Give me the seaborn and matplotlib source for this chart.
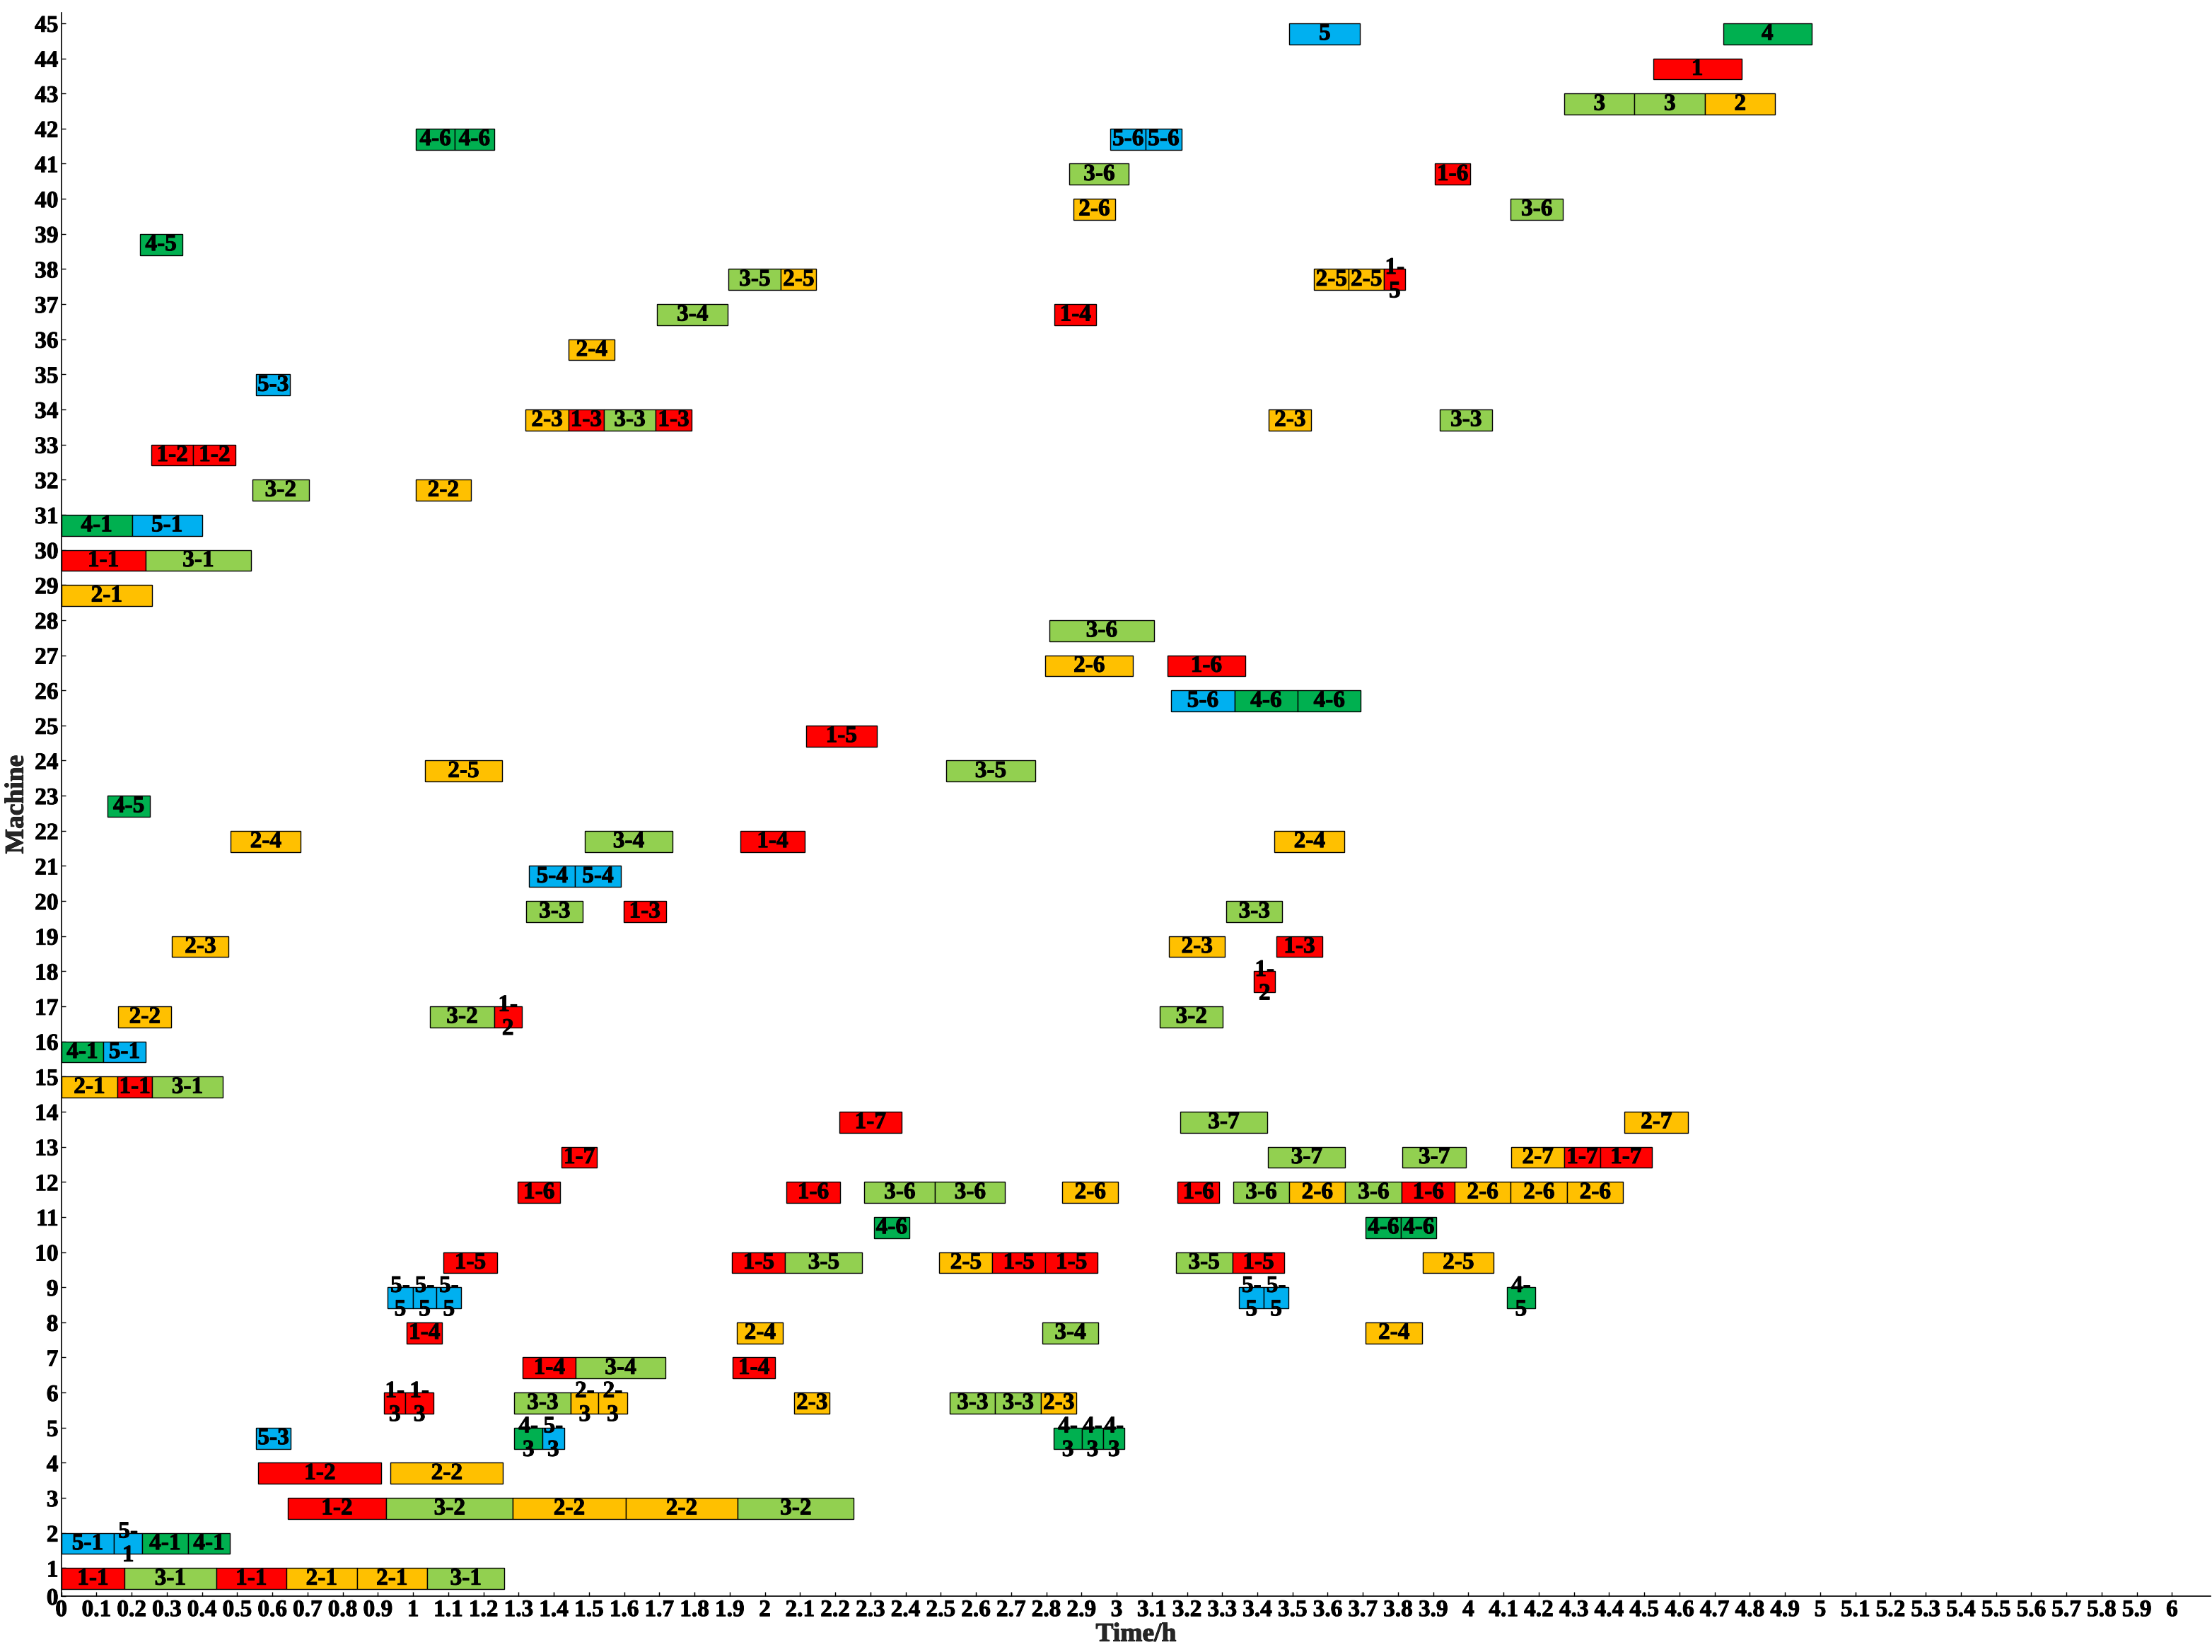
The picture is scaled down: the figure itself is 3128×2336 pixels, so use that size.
import numpy as np
import pandas as pd
import matplotlib
matplotlib.use("Agg")
import matplotlib.pyplot as plt
import matplotlib.patheffects as pe
import seaborn as sns

# one line per machine row, bottom (1) to top (45)
machine = [
    1, 1, 1, 1, 1, 1,
    2, 2, 2, 2,
    3, 3, 3, 3, 3,
    4, 4,
    5, 5, 5, 5, 5, 5,
    6, 6, 6, 6, 6, 6, 6, 6, 6,
    7, 7, 7,
    8, 8, 8, 8,
    9, 9, 9, 9, 9, 9,
    10, 10, 10, 10, 10, 10, 10, 10, 10,
    11, 11, 11,
    12, 12, 12, 12, 12, 12, 12, 12, 12, 12, 12, 12, 12,
    13, 13, 13, 13, 13, 13,
    14, 14, 14,
    15, 15, 15,
    16, 16,
    17, 17, 17, 17,
    18,
    19, 19, 19,
    20, 20, 20,
    21, 21,
    22, 22, 22, 22,
    23,
    24, 24,
    25,
    26, 26, 26,
    27, 27,
    28,
    29,
    30, 30,
    31, 31,
    32, 32,
    33, 33,
    34, 34, 34, 34, 34, 34,
    35,
    36,
    37, 37,
    38, 38, 38, 38, 38,
    39,
    40, 40,
    41, 41,
    42, 42, 42, 42,
    43, 43, 43,
    44,
    45, 45,
]

start = [
    0, 0.18, 0.44, 0.64, 0.84, 1.04,
    0, 0.15, 0.23, 0.36,
    0.643, 0.924, 1.284, 1.604, 1.923,
    0.56, 0.936,
    0.553, 1.288, 1.368, 2.822, 2.901, 2.962,
    0.918, 0.978, 1.288, 1.449, 1.527, 2.084, 2.526, 2.655, 2.785,
    1.312, 1.463, 1.909,
    0.982, 1.921, 2.789, 3.708,
    0.928, 0.999, 1.067, 3.348, 3.419, 4.110,
    1.087, 1.907, 2.058, 2.496, 2.647, 2.797, 3.168, 3.329, 3.871,
    2.311, 3.708, 3.809,
    1.298, 2.062, 2.283, 2.484, 2.846, 3.173, 3.331, 3.491, 3.650, 3.811, 3.961, 4.120, 4.281,
    1.422, 3.431, 3.813, 4.122, 4.273, 4.374,
    2.211, 3.180, 4.444,
    0, 0.16, 0.258,
    0, 0.12,
    0.162, 1.049, 1.230, 3.123,
    3.390,
    0.315, 3.149, 3.455,
    1.322, 1.598, 3.312,
    1.330, 1.461,
    0.482, 1.488, 1.931, 3.449,
    0.132,
    1.033, 2.516,
    2.117,
    3.155, 3.335, 3.515,
    2.797, 3.144,
    2.808,
    0,
    0, 0.239,
    0, 0.201,
    0.543, 1.007,
    0.256, 0.375,
    1.320, 1.442, 1.542, 1.690, 3.433, 3.919,
    0.553,
    1.443,
    1.694, 2.824,
    1.897, 2.046, 3.561, 3.660, 3.760,
    0.223,
    2.877, 4.120,
    2.866, 3.905,
    1.008, 1.119, 2.982, 3.083,
    4.273, 4.472, 4.673,
    4.525,
    3.491, 4.725,
]

finish = [
    0.18, 0.44, 0.64, 0.84, 1.04, 1.26,
    0.15, 0.23, 0.36, 0.48,
    0.924, 1.284, 1.604, 1.923, 2.253,
    0.91, 1.256,
    0.653, 1.368, 1.429, 2.901, 2.962, 3.023,
    0.978, 1.058, 1.449, 1.527, 1.608, 2.184, 2.655, 2.785, 2.886,
    1.463, 1.717, 2.029,
    1.083, 2.052, 2.948, 3.869,
    0.999, 1.067, 1.137, 3.419, 3.488, 4.189,
    1.238, 2.058, 2.277, 2.647, 2.797, 2.946, 3.329, 3.477, 4.072,
    2.410, 3.809, 3.909,
    1.418, 2.213, 2.484, 2.683, 3.004, 3.292, 3.491, 3.650, 3.811, 3.961, 4.120, 4.281, 4.440,
    1.523, 3.650, 3.993, 4.273, 4.374, 4.522,
    2.389, 3.429, 4.625,
    0.16, 0.258, 0.459,
    0.12, 0.239,
    0.313, 1.230, 1.309, 3.302,
    3.451,
    0.476, 3.308, 3.584,
    1.483, 1.719, 3.471,
    1.461, 1.590,
    0.681, 1.738, 2.113, 3.648,
    0.252,
    1.254, 2.768,
    2.318,
    3.335, 3.515, 3.694,
    3.047, 3.366,
    3.107,
    0.258,
    0.239, 0.540,
    0.201, 0.400,
    0.704, 1.165,
    0.375, 0.496,
    1.442, 1.542, 1.690, 1.791, 3.553, 4.068,
    0.651,
    1.573,
    1.895, 2.942,
    2.046, 2.146, 3.660, 3.760, 3.821,
    0.344,
    2.996, 4.269,
    3.035, 4.005,
    1.119, 1.230, 3.083, 3.184,
    4.472, 4.673, 4.872,
    4.776,
    3.692, 4.975,
]

task = [
    '1-1', '3-1', '1-1', '2-1', '2-1', '3-1',
    '5-1', '5-1', '4-1', '4-1',
    '1-2', '3-2', '2-2', '2-2', '3-2',
    '1-2', '2-2',
    '5-3', '4-3', '5-3', '4-3', '4-3', '4-3',
    '1-3', '1-3', '3-3', '2-3', '2-3', '2-3', '3-3', '3-3', '2-3',
    '1-4', '3-4', '1-4',
    '1-4', '2-4', '3-4', '2-4',
    '5-5', '5-5', '5-5', '5-5', '5-5', '4-5',
    '1-5', '1-5', '3-5', '2-5', '1-5', '1-5', '3-5', '1-5', '2-5',
    '4-6', '4-6', '4-6',
    '1-6', '1-6', '3-6', '3-6', '2-6', '1-6', '3-6', '2-6', '3-6', '1-6', '2-6', '2-6', '2-6',
    '1-7', '3-7', '3-7', '2-7', '1-7', '1-7',
    '1-7', '3-7', '2-7',
    '2-1', '1-1', '3-1',
    '4-1', '5-1',
    '2-2', '3-2', '1-2', '3-2',
    '1-2',
    '2-3', '2-3', '1-3',
    '3-3', '1-3', '3-3',
    '5-4', '5-4',
    '2-4', '3-4', '1-4', '2-4',
    '4-5',
    '2-5', '3-5',
    '1-5',
    '5-6', '4-6', '4-6',
    '2-6', '1-6',
    '3-6',
    '2-1',
    '1-1', '3-1',
    '4-1', '5-1',
    '3-2', '2-2',
    '1-2', '1-2',
    '2-3', '1-3', '3-3', '1-3', '2-3', '3-3',
    '5-3',
    '2-4',
    '3-4', '1-4',
    '3-5', '2-5', '2-5', '2-5', '1-5',
    '4-5',
    '2-6', '3-6',
    '3-6', '1-6',
    '4-6', '4-6', '5-6', '5-6',
    '3', '3', '2',
    '1',
    '5', '4',
]

job_colors = {'1': '#FF0000', '2': '#FFC000', '3': '#92D050', '4': '#00B050', '5': '#00B0F0'}

y_tick_labels = [str(i) for i in range(0, 46)]

sns.set_theme(style="ticks")
plt.rcParams['font.family'] = ['Liberation Serif', 'DejaVu Serif']
plt.rcParams['font.weight'] = 'bold'

df = pd.DataFrame({'machine': machine, 'start': start, 'finish': finish, 'task': task})
df['job'] = df['task'].str.split('-').str[0]
df['dur'] = df['finish'] - df['start']

fig = plt.figure(figsize=(15.64, 11.68), dpi=200)
ax = fig.add_axes([0.0277, 0.0338, 0.9717, 0.9585])

# slightly heavier glyphs, like the original rendering
heavy = [pe.withStroke(linewidth=0.35, foreground='black')]

# bars sit just under their machine tick
ax.barh(df['machine'] - 0.3, df['dur'], left=df['start'], height=0.6,
        color=df['job'].map(job_colors), edgecolor='black', linewidth=0.5)

for _, r in df.iterrows():
    lab = r['task']
    if r['dur'] < 0.09 and '-' in lab:
        a, b = lab.split('-')
        lab = a + '-\n' + b
    ax.text(r['start'] + r['dur'] / 2, r['machine'] - 0.3, lab,
            ha='center', va='center', fontsize=12, fontweight='bold',
            linespacing=1.1, color='black', path_effects=heavy)

ax.set_xlim(0, 6.11)
ax.set_ylim(0.2, 45.3)

xt = np.round(np.arange(0, 6.01, 0.1), 1)
ax.set_xticks(xt)
ax.set_xticklabels(['%g' % v for v in xt])
ax.set_yticks([0.2] + list(range(1, 46)))
ax.set_yticklabels(y_tick_labels)

ax.tick_params(axis='both', direction='in', length=2, width=0.5, pad=1.5,
               labelsize=12, colors='black')
for lbl in ax.get_xticklabels() + ax.get_yticklabels():
    lbl.set_fontweight('bold')
    lbl.set_path_effects(heavy)

ax.set_xlabel('Time/h', fontsize=13.5, fontweight='bold', labelpad=0.5,
              path_effects=heavy)
ax.set_ylabel('Machine', fontsize=13.5, fontweight='bold', labelpad=3,
              path_effects=heavy)

sns.despine(ax=ax)
for s in ['left', 'bottom']:
    ax.spines[s].set_linewidth(0.6)
    ax.spines[s].set_color('black')

fig.savefig('out.png', dpi=200, facecolor='white')
